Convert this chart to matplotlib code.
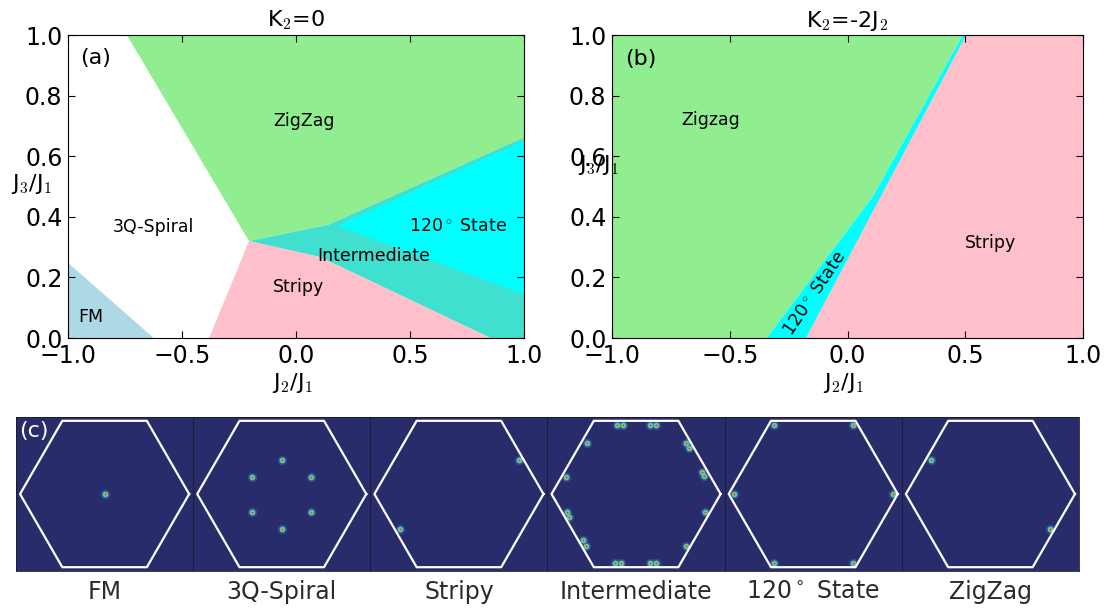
import numpy as np
import matplotlib.pyplot as plt

plt.rcParams['font.family'] = ['DejaVu Sans']
plt.rcParams['mathtext.fontset'] = 'cm'

# phase diagram (a), K2 = 0 : polygon corners (J2/J1, J3/J1)
fm_a = [(-1.0, 0.0), (-1.0, 0.248), (-0.624, 0.0)]
zigzag_a = [(-0.742, 1.0), (1.0, 1.0), (1.0, 0.662), (0.143, 0.374), (-0.206, 0.320)]
inter_a = [(-0.206, 0.320), (0.143, 0.374), (1.0, 0.662), (1.0, 0.0), (0.853, 0.0), (0.106, 0.267)]
state120_a = [(0.182, 0.371), (1.0, 0.651), (1.0, 0.144)]
stripy_a = [(-0.381, 0.0), (-0.206, 0.320), (0.106, 0.267), (0.853, 0.0)]

# phase diagram (b), K2 = -2 J2
zigzag_b = [(-1.0, 0.0), (-0.343, 0.0), (0.11, 0.47), (0.49, 1.0), (-1.0, 1.0)]
state120_b = [(-0.343, 0.0), (-0.175, 0.0), (0.505, 1.0), (0.49, 1.0), (0.11, 0.47)]
stripy_b = [(-0.175, 0.0), (1.0, 0.0), (1.0, 1.0), (0.505, 1.0)]

# structure factor peaks, in units of the zone corner distance
panel_names = ['FM', '3Q-Spiral', 'Stripy', 'Intermediate', '120$^\\circ$ State', 'ZigZag']
peaks_kx = [
    [0.0],
    [0.0, -0.35, 0.35, -0.35, 0.35, 0.0],
    [0.71, -0.70],
    [-0.224, -0.159, 0.168, 0.233, -0.246, -0.181, 0.168, 0.233, -0.586, 0.590, 0.625,
     -0.826, 0.778, 0.808, -0.821, -0.791, 0.821, -0.630, -0.595, 0.590],
    [-0.469, 0.474, -0.943, 0.943, -0.469, 0.474],
    [-0.707, 0.707],
]
peaks_ky = [
    [0.0],
    [0.40, 0.20, 0.20, -0.21, -0.21, -0.41],
    [0.40, -0.41],
    [0.811, 0.811, 0.811, 0.811, -0.819, -0.819, -0.819, -0.819, 0.606, 0.598, 0.539,
     0.197, 0.264, 0.213, -0.209, -0.268, -0.209, -0.543, -0.610, -0.614],
    [0.811, 0.811, 0.0, 0.0, -0.819, -0.819],
    [0.402, -0.413],
]

fig = plt.figure(figsize=(11.17, 6.13), dpi=100)


def fill_poly(ax, pts, color):
    xs = [p[0] for p in pts]
    ys = [p[1] for p in pts]
    ax.fill(xs, ys, color=color, lw=0)


def style_axes(ax, title, lab_x, lab_y):
    ax.set_xlim(-1, 1)
    ax.set_ylim(0, 1)
    ax.set_xticks([-1.0, -0.5, 0.0, 0.5, 1.0])
    ax.set_yticks([0.0, 0.2, 0.4, 0.6, 0.8, 1.0])
    ax.tick_params(direction='in', length=5, top=True, right=True, labelsize=17, pad=4)
    ax.set_title(title, fontsize=16, pad=6)
    ax.set_xlabel('J$_2$/J$_1$', fontsize=16)
    ax.xaxis.set_label_coords(0.493, -0.11)
    ax.set_ylabel('J$_3$/J$_1$', fontsize=16, rotation=0)
    ax.yaxis.set_label_coords(lab_x, lab_y)


ax_a = fig.add_axes([0.0609, 0.4486, 0.4082, 0.4943])
fill_poly(ax_a, fm_a, 'lightblue')
fill_poly(ax_a, zigzag_a, 'lightgreen')
fill_poly(ax_a, inter_a, 'turquoise')
fill_poly(ax_a, state120_a, 'cyan')
fill_poly(ax_a, stripy_a, 'pink')
style_axes(ax_a, 'K$_2$=0', -0.079, 0.47)
ax_a.text(-0.878, 0.923, '(a)', fontsize=16, ha='center', va='center')
ax_a.text(0.034, 0.717, 'ZigZag', fontsize=12.5, ha='center', va='center')
ax_a.text(-0.624, 0.367, '3Q-Spiral', fontsize=12.5, ha='center', va='center')
ax_a.text(0.712, 0.369, '120$^\\circ$ State', fontsize=12.5, ha='center', va='center')
ax_a.text(0.342, 0.27, 'Intermediate', fontsize=12.5, ha='center', va='center')
ax_a.text(0.010, 0.168, 'Stripy', fontsize=12.5, ha='center', va='center')
ax_a.text(-0.898, 0.069, 'FM', fontsize=12.5, ha='center', va='center')

ax_b = fig.add_axes([0.5479, 0.4486, 0.4217, 0.4943])
fill_poly(ax_b, zigzag_b, 'lightgreen')
fill_poly(ax_b, state120_b, 'cyan')
fill_poly(ax_b, stripy_b, 'pink')
style_axes(ax_b, 'K$_2$=-2J$_2$', -0.028, 0.53)
ax_b.text(-0.879, 0.922, '(b)', fontsize=16, ha='center', va='center')
ax_b.text(-0.58, 0.718, 'Zigzag', fontsize=12.5, ha='center', va='center')
ax_b.text(0.607, 0.315, 'Stripy', fontsize=12.5, ha='center', va='center')
ax_b.text(-0.141, 0.148, '120$^\\circ$ State', fontsize=12.5, ha='center', va='center',
          rotation=56)

# bottom strip of structure factors
bg = '#292c6b'
ang = np.deg2rad(np.arange(0, 361, 60))
hx, hy = np.cos(ang), np.sin(ang)
pw = 1063 / 6 / 1117
for i in range(6):
    ax = fig.add_axes([16 / 1117 + i * pw, 0.0685, pw, 0.2512])
    ax.set_facecolor(bg)
    ax.set_xlim(-1.048, 1.048)
    ax.set_ylim(-0.911, 0.911)
    ax.set_xticks([])
    ax.set_yticks([])
    for s in ax.spines.values():
        s.set_color('#1a1a2e')
        s.set_linewidth(0.6)
    kx, ky = peaks_kx[i], peaks_ky[i]
    ax.scatter(kx, ky, s=45, color='#2f6fb8', alpha=0.5, lw=0, zorder=2)
    ax.scatter(kx, ky, s=18, color='#3fc4c8', lw=0, zorder=2)
    ax.scatter(kx, ky, s=7, color='#a8d84a', lw=0, zorder=2)
    ax.scatter(kx, ky, s=2.5, color='#d8402a', lw=0, zorder=2)
    ax.plot(hx, hy, color='white', lw=1.6, zorder=3)
    ax.text(0.5, -0.136, panel_names[i], transform=ax.transAxes, ha='center', va='center',
            fontsize=17, color='#2b2b2b', math_fontfamily='dejavusans')
    if i == 0:
        ax.text(0.015, 0.975, '(c)', transform=ax.transAxes, ha='left', va='top',
                fontsize=16, color='white')

fig.savefig('out.png', dpi=100)
